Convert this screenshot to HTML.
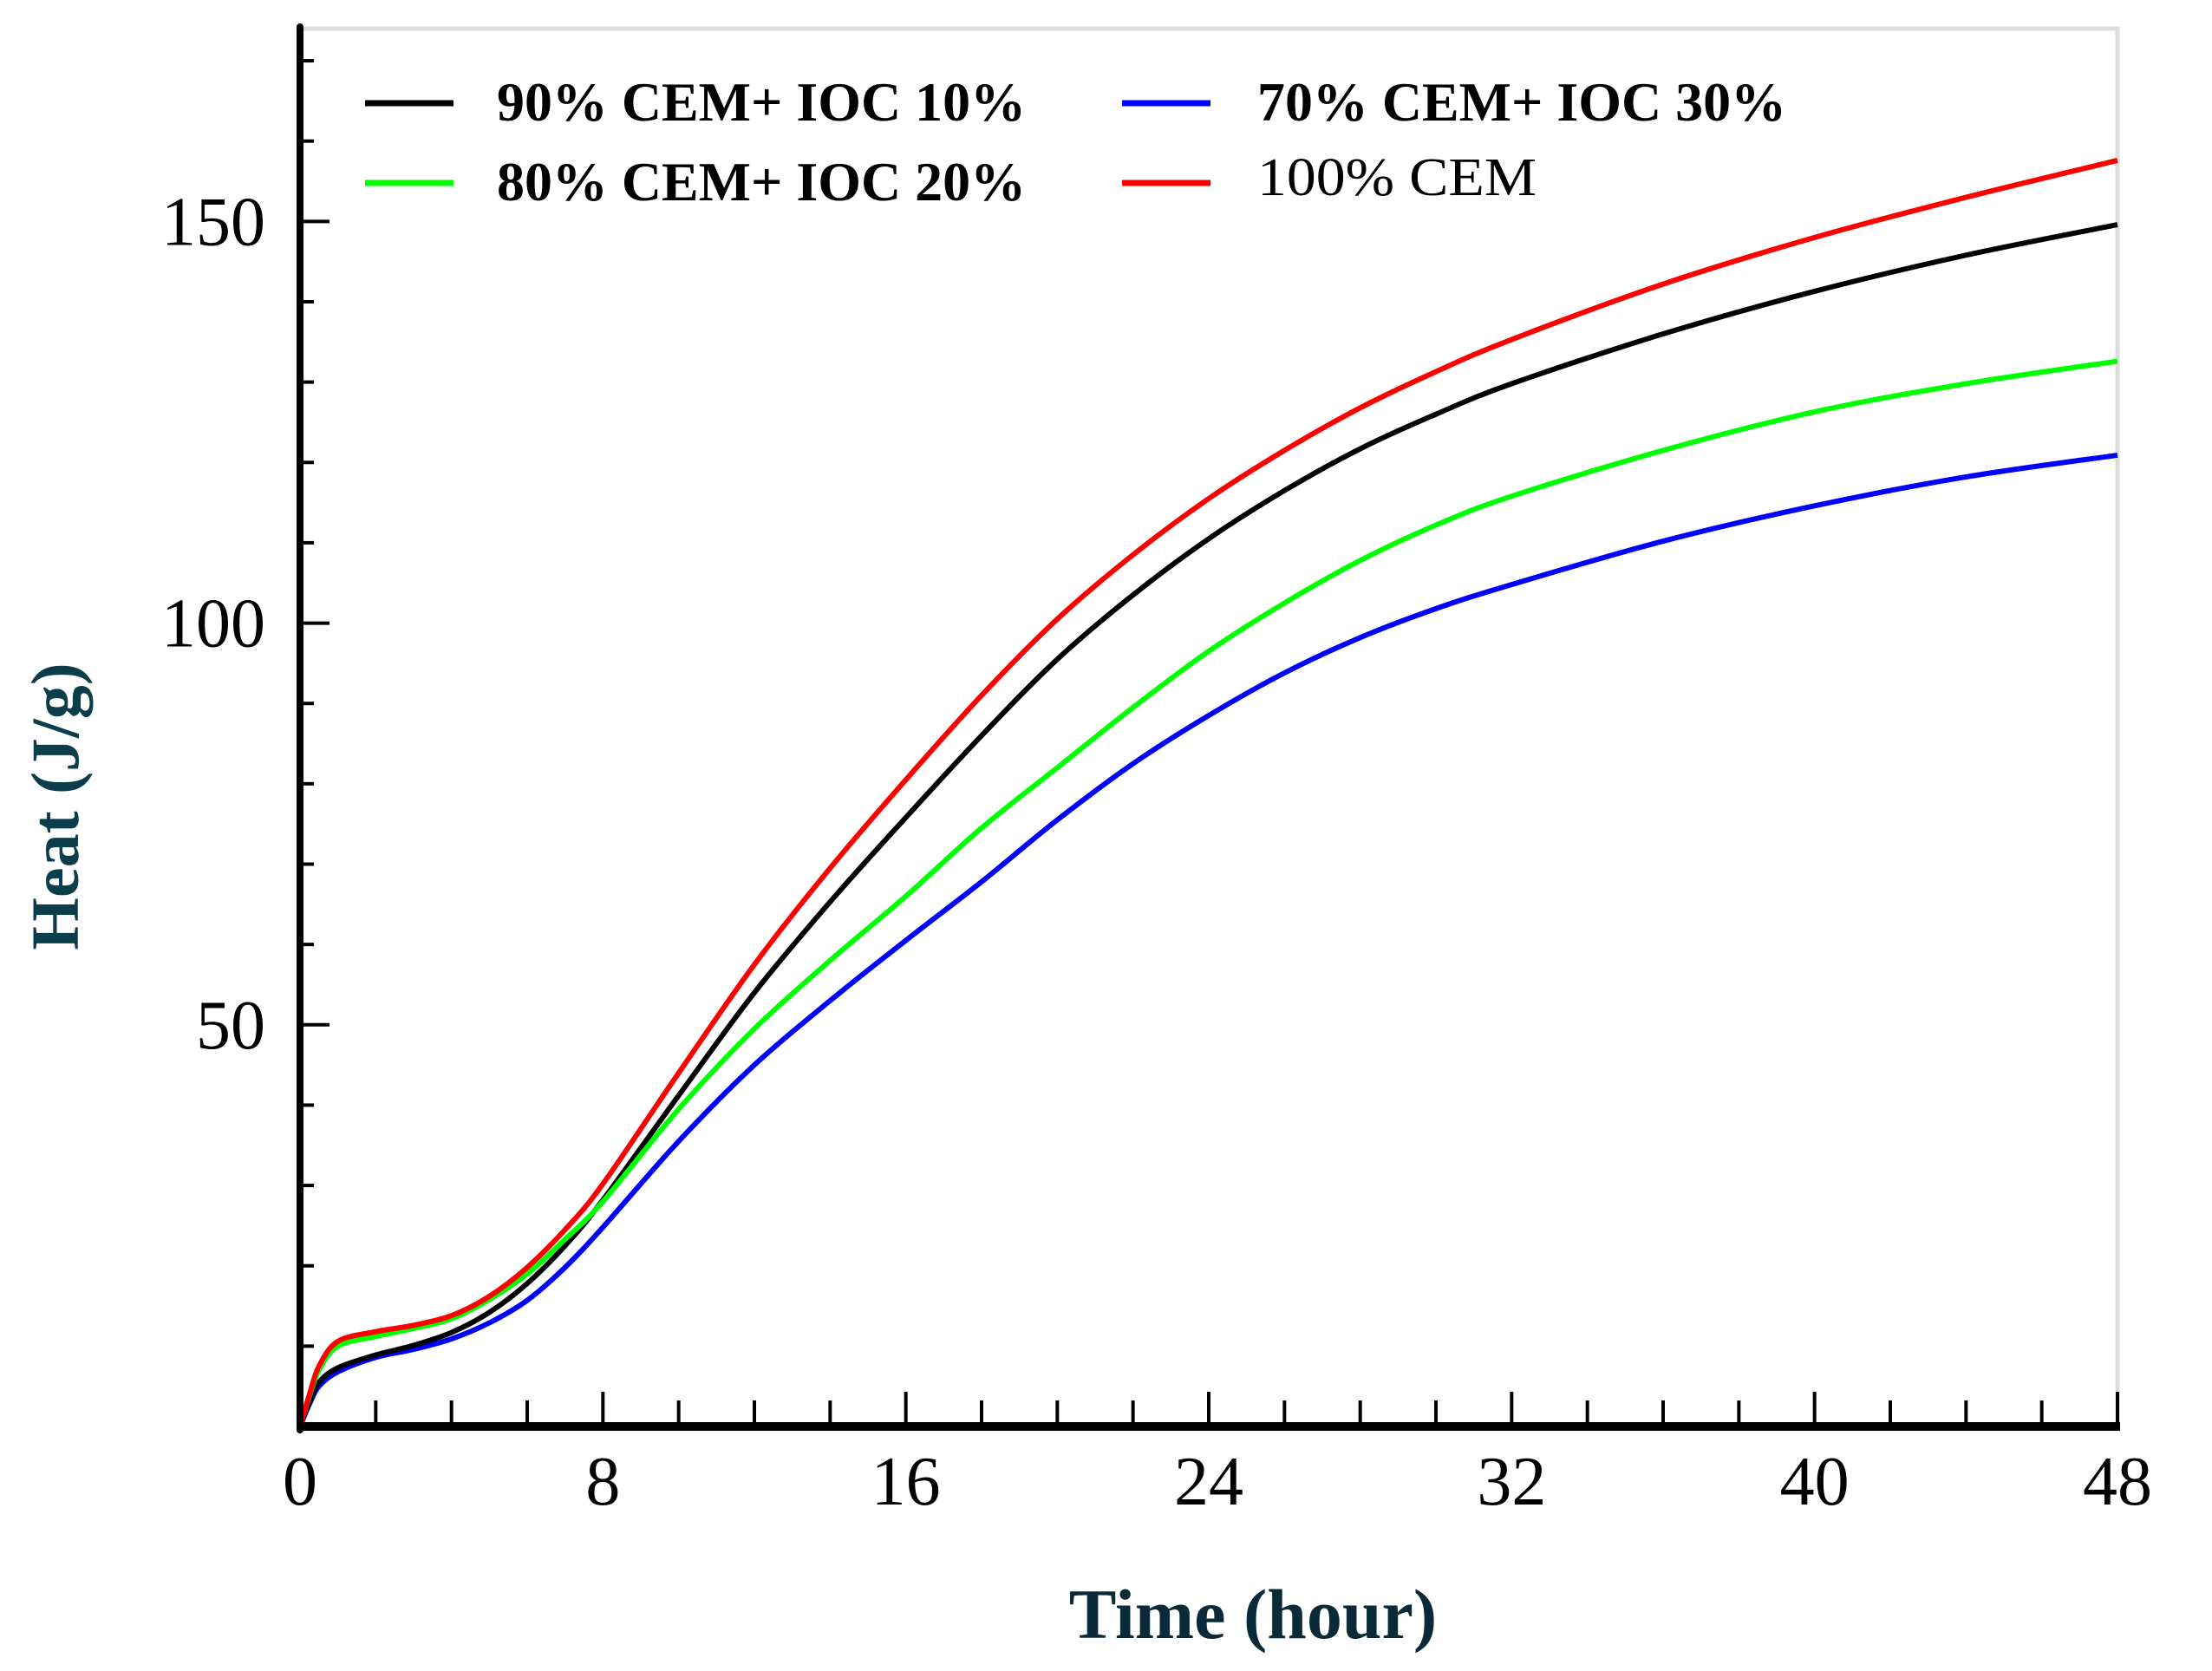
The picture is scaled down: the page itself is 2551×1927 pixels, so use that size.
<!DOCTYPE html>
<html><head><meta charset="utf-8"><style>
html,body{margin:0;padding:0;background:#fff;}
svg{display:block;}
text{font-family:"Liberation Serif",serif;}
</style></head><body>
<svg id="chart" width="2551" height="1927" viewBox="0 0 2551 1927" xmlns="http://www.w3.org/2000/svg">
<rect x="0" y="0" width="2551" height="1927" fill="#fff"/>
<g id="frame"></g>
<g id="series"></g>
<g id="axes"></g>
<g id="legend"></g>
<text x="1445" y="1889" text-anchor="middle" font-size="82" font-weight="bold" fill="#0a2a3a">Time (hour)</text>
<text transform="translate(90,930) rotate(-90)" text-anchor="middle" font-size="78" font-weight="bold" fill="#0b3d4a">Heat (J/g)</text>
</svg>
<script>
const times = [0,0.25,0.5,1,2,3,4,5,6,7,8,10,12,14,16,18,20,22,24,26,28,30,32,36,40,44,48];
const cem90 = [0,3,5.5,7.3,8.9,10.1,11.7,14.2,17.8,22.5,28.2,41.2,54,65.3,75.8,86,95.5,103.5,110.5,116.5,121.7,126,129.8,136,141.3,145.8,149.6];
const cem80 = [0,3.8,7,10,11.2,12.2,13.4,15.8,19,23.3,28,39.5,49.5,58,66,74.5,82,89.5,96.5,102.5,107.8,112.2,115.8,121.5,126.3,129.8,132.6];
const cem70 = [0,2.8,5,6.8,8.6,9.6,10.9,12.9,15.7,19.8,24.8,35.5,45,53,60.5,67.8,75.5,82.5,88.5,93.8,98.2,101.8,104.8,110.2,114.6,118.2,120.9];
const cem100 = [0,4,7.5,10.6,11.8,12.6,13.8,16.2,19.8,24.5,30.2,44,57.5,69.5,80.5,91,100.5,108.5,115.5,121.5,126.8,131.3,135.3,142.2,148,153,157.6];
const xTickLabels = ["0","8","16","24","32","40","48"];
const yTickLabels = ["50","100","150"];
const legendLabels = ["90% CEM+ IOC 10%","80% CEM+ IOC 20%","70% CEM+ IOC 30%","100% CEM"];

const NS="http://www.w3.org/2000/svg";
const X0=346, X1=2442, Y0=1645, YTOP=33, XMAX=48, YMAX=174;
function xs(t){return X0+(t/XMAX)*(X1-X0);}
function ys(v){return Y0-(v/YMAX)*(Y0-YTOP);}
function mk(tag,attrs,parent){const e=document.createElementNS(NS,tag);for(const k in attrs)e.setAttribute(k,attrs[k]);parent.appendChild(e);return e;}

const frame=document.getElementById('frame');
const fr=mk('path',{d:`M${X0} ${YTOP} L${X1} ${YTOP} L${X1} ${Y0}`,fill:'none',stroke:'#dcdcdc','stroke-width':5},frame);



function pathFor(vals){
  const p=times.map((t,i)=>[xs(t),ys(vals[i])]);
  let d=`M${p[0][0]} ${p[0][1]}`;
  for(let i=0;i<p.length-1;i++){
    const a=p[Math.max(0,i-1)],b=p[i],c=p[i+1],e=p[Math.min(p.length-1,i+2)];
    const c1=[b[0]+(c[0]-a[0])/6,b[1]+(c[1]-a[1])/6];
    const c2=[c[0]-(e[0]-b[0])/6,c[1]-(e[1]-b[1])/6];
    d+=` C${c1[0]} ${c1[1]} ${c2[0]} ${c2[1]} ${c[0]} ${c[1]}`;
  }
  return d;
}
const sg=document.getElementById('series');
const s1=mk('path',{d:pathFor(cem70),fill:'none',stroke:'#0000ff','stroke-width':6},sg);


const s2=mk('path',{d:pathFor(cem90),fill:'none',stroke:'#000000','stroke-width':6},sg);


const s3=mk('path',{d:pathFor(cem80),fill:'none',stroke:'#00ff00','stroke-width':6},sg);


const s4=mk('path',{d:pathFor(cem100),fill:'none',stroke:'#ff0000','stroke-width':6},sg);



const ax=document.getElementById('axes');
const xl=mk('line',{x1:X0-4,y1:Y0,x2:X1+3,y2:Y0,stroke:'#000','stroke-width':10},ax);


const yl=mk('line',{x1:X0,y1:YTOP-2,x2:X0,y2:Y0+4,stroke:'#000','stroke-width':8,'stroke-linecap':'round'},ax);


for(let t=2;t<=XMAX;t+=2){
  const major=(t%8===0);
  const tk=mk('line',{x1:xs(t),y1:Y0,x2:xs(t),y2:Y0-(major?40:30),stroke:'#000','stroke-width':4},ax);
  
  
}
xTickLabels.forEach(l=>{
  const tx=mk('text',{x:xs(+l),y:1735,'text-anchor':'middle','font-size':80,fill:'#000'},ax);
  tx.textContent=l;
  
  
});
for(let v=10;v<=170;v+=10){
  const major=(v%50===0);
  const tk=mk('line',{x1:X0,y1:ys(v),x2:X0+(major?34:16),y2:ys(v),stroke:'#000','stroke-width':4},ax);
  
  
}
yTickLabels.forEach(l=>{
  const tx=mk('text',{x:306,y:ys(+l)+27,'text-anchor':'end','font-size':80,fill:'#000'},ax);
  tx.textContent=l;
  
  
});

const lg=document.getElementById('legend');
const legColors=['#000000','#00ff00','#0000ff','#ff0000'];
const legPos=[[421,119,573],[421,211,573],[1294,119,1450],[1294,211,1450]];
const legBold=[true,true,true,false];
const legLen=[610,610,610,322];
legendLabels.forEach((l,i)=>{
  const [lx,ly,tx]=legPos[i];
  const ln=mk('line',{x1:lx,y1:ly,x2:lx+102,y2:ly,stroke:legColors[i],'stroke-width':7},lg);
  
  
  const t=mk('text',{x:tx,y:ly+(legBold[i]?20:14),'font-size':legBold[i]?64:62,'font-weight':legBold[i]?'bold':'normal',fill:'#000',textLength:legLen[i],lengthAdjust:'spacingAndGlyphs'},lg);
  t.textContent=l;
  
  
});
</script>
</body></html>
